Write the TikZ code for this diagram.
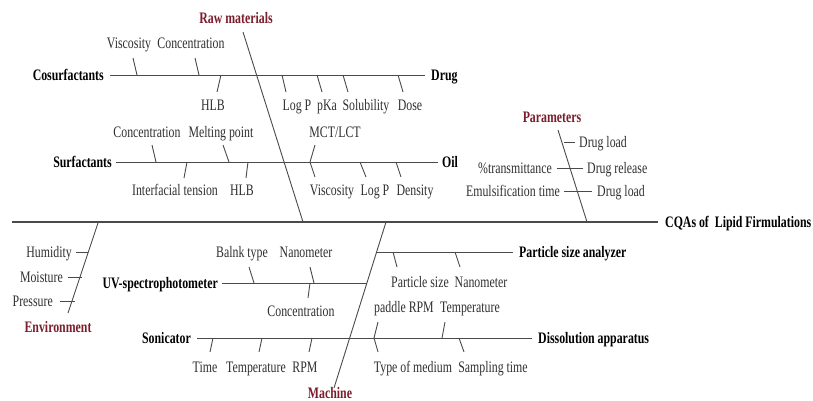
\documentclass[tikz,border=0pt]{standalone}
\usepackage{fontspec}
\setmainfont{Liberation Serif}[FakeStretch=0.74]
\definecolor{catc}{HTML}{7A1E2C}
\definecolor{leafc}{HTML}{303030}
\definecolor{linec}{HTML}{4A4A4A}
\begin{document}
\begin{tikzpicture}[x=1pt,y=-1pt,
  every node/.style={inner sep=0pt, text height=10.6pt, text depth=0pt, font=\fontsize{16}{18}\selectfont},
  leaf/.style={text=leafc},
  head/.style={font=\fontsize{16}{18}\selectfont\bfseries, text=black},
  cat/.style={font=\fontsize{16}{18}\selectfont\bfseries, text=catc},
  ln/.style={draw=linec, line width=0.9pt},
  spine/.style={draw=linec, line width=1.4pt}]
\useasboundingbox (0,0) rectangle (813,401);
\fill[white] (0,0) rectangle (813,401);

% ---------- category labels ----------
\node[cat] (rawm) at (236,18) {Raw materials};
\node[cat] (params) at (552,117) {Parameters};
\node[cat] (env) at (58,327) {Environment};
\node[cat] (machine) at (330,393) {Machine};

% ---------- head labels ----------
\node[head, anchor=west] (cqa) at (665,222) {CQAs of~ Lipid Firmulations};
\node[head, anchor=east] (cosurf) at (104,75) {Cosurfactants};
\node[head, anchor=west] (drug) at (431,75) {Drug};
\node[head, anchor=east] (surf) at (112,162) {Surfactants};
\node[head, anchor=west] (oil) at (442,162) {Oil};
\node[head, anchor=west] (psa) at (519,252) {Particle size analyzer};
\node[head, anchor=east] (uv) at (218,283) {UV-spectrophotometer};
\node[head, anchor=east] (sonic) at (191,338) {Sonicator};
\node[head, anchor=west] (diss) at (538,338) {Dissolution apparatus};

% ---------- spine and diagonals ----------
\coordinate (s0) at (12,222);
\coordinate (rawend) at (303,222);
\coordinate (parend) at (587,222);
\coordinate (envtop) at (98,223);
\coordinate (machtop) at (386,222);
\draw[spine] (s0) -- ([xshift=-7]cqa.west);
\draw[ln] (243,32) -- (rawend);
\draw[ln] (558,130) -- (parend);
\draw[ln] (envtop) -- (68,313);
\draw[ln] (machtop) -- (334,388);

% ---------- branches ----------
\draw[ln] ([xshift=6]cosurf.east) -- ([xshift=-6]drug.west);
\draw[ln] ([xshift=4]surf.east) -- ([xshift=-4]oil.west);
\draw[ln] (376.6,252) -- ([xshift=-6]psa.west);
\draw[ln] ([xshift=4]uv.east) -- (367,283);
\draw[ln] ([xshift=6]sonic.east) -- ([xshift=-6]diss.west);

% ---------- Cosurfactants / Drug leaves ----------
\node[leaf] (c1) at (129,43) {Viscosity};
\node[leaf] (c2) at (191,43) {Concentration};
\node[leaf] (c3) at (213,105) {HLB};
\node[leaf] (d1) at (297,105) {Log P};
\node[leaf] (d2) at (327,105) {pKa};
\node[leaf] (d3) at (366,105) {Solubility};
\node[leaf] (d4) at (410,105) {Dose};
\draw[ln] (133,58) -- (137,75);
\draw[ln] (195,58) -- (199,75);
\draw[ln] (221,75) -- (217,92);
\draw[ln] (282,75) -- (286,92);
\draw[ln] (317,75) -- (322,92);
\draw[ln] (343,75) -- (348,92);
\draw[ln] (398,75) -- (403,92);

% ---------- Surfactants / Oil leaves ----------
\node[leaf] (s1) at (147,132) {Concentration};
\node[leaf] (s2) at (221,132) {Melting point};
\node[leaf] (s3) at (175,190) {Interfacial tension};
\node[leaf] (s4) at (242,190) {HLB};
\node[leaf] (o1) at (335,132) {MCT/LCT};
\node[leaf] (o2) at (332,190) {Viscosity};
\node[leaf] (o3) at (375,190) {Log P};
\node[leaf] (o4) at (415,190) {Density};
\draw[ln] (152,145) -- (156,162);
\draw[ln] (223,145) -- (229,162);
\draw[ln] (187,162) -- (184,178);
\draw[ln] (248,162) -- (246,178);
\draw[ln] (315,145) -- (310,162) -- (315,177);
\draw[ln] (360,162) -- (366,177);
\draw[ln] (396,162) -- (401,177);

% ---------- Parameters ----------
\node[leaf, anchor=west] (p1) at (579,142) {Drug load};
\node[leaf, anchor=west] (p2) at (587,168) {Drug release};
\node[leaf, anchor=east] (p3) at (552,168) {\%transmittance};
\node[leaf, anchor=east] (p4) at (560,191) {Emulsification time};
\node[leaf, anchor=west] (p5) at (597,191) {Drug load};
\draw[ln] (564,142) -- (575,142);
\draw[ln] (557,168) -- (583,168);
\draw[ln] (564,191) -- (592,191);

% ---------- Environment ----------
\node[leaf, anchor=east] (e1) at (72,252) {Humidity};
\node[leaf, anchor=east] (e2) at (63,277) {Moisture};
\node[leaf, anchor=east] (e3) at (53,301) {Pressure};
\draw[ln] (76,252) -- (88,252);
\draw[ln] (68,277) -- (82,277);
\draw[ln] (60,301) -- (75,301);

% ---------- Machine: UV / Particle size ----------
\node[leaf] (u1) at (242,252) {Balnk type};
\node[leaf] (u2) at (306,252) {Nanometer};
\node[leaf] (u3) at (301,311) {Concentration};
\draw[ln] (249,267) -- (254,283);
\draw[ln] (310,267) -- (314,283);
\draw[ln] (310,283) -- (308,298);
\node[leaf] (a1) at (420,282) {Particle size};
\node[leaf] (a2) at (481,282) {Nanometer};
\draw[ln] (393,252) -- (397,267);
\draw[ln] (455,252) -- (460,267);

% ---------- Machine: Sonicator / Dissolution ----------
\node[leaf] (n1) at (205,367) {Time};
\node[leaf] (n2) at (256,367) {Temperature};
\node[leaf] (n3) at (305,367) {RPM};
\draw[ln] (213,338) -- (210,352);
\draw[ln] (262,338) -- (259,352);
\draw[ln] (312,338) -- (309,352);
\node[leaf] (x1) at (404,307) {paddle RPM};
\node[leaf] (x2) at (470,307) {Temperature};
\node[leaf] (x3) at (413,367) {Type of medium};
\node[leaf] (x4) at (493,367) {Sampling time};
\draw[ln] (378,322) -- (374,338) -- (378,352);
\draw[ln] (445,322) -- (442,338);
\draw[ln] (459,338) -- (464,352);
\end{tikzpicture}
\end{document}
